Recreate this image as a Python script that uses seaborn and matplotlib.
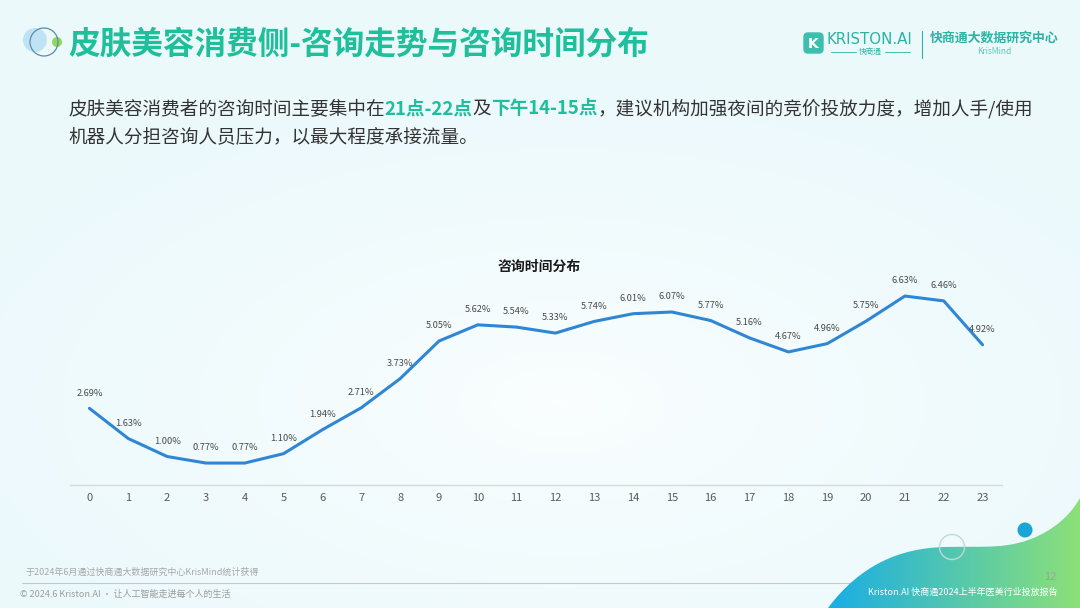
import numpy as np
import pandas as pd
import matplotlib
matplotlib.use("Agg")
import matplotlib.pyplot as plt
import seaborn as sns
from matplotlib.patches import Circle, PathPatch, FancyBboxPatch
from matplotlib.path import Path

# ---------------- data ----------------
hours = list(range(24))
hour_labels = [str(h) for h in hours]
share_pct = [2.69, 1.63, 1.00, 0.77, 0.77, 1.10, 1.94, 2.71, 3.73, 5.05, 5.62, 5.54,
             5.33, 5.74, 6.01, 6.07, 5.77, 5.16, 4.67, 4.96, 5.75, 6.63, 6.46, 4.92]

title_text = "皮肤美容消费侧-咨询走势与咨询时间分布"
chart_title = "咨询时间分布"
line1 = [("皮肤美容消费者的咨询时间主要集中在", False), ("21点-22点", True), ("及", False),
         ("下午14-15点", True), ("，建议机构加强夜间的竞价投放力度，增加人手/使用", False)]
line2 = [("机器人分担咨询人员压力，以最大程度承接流量。", False)]
source_text = "于2024年6月通过快商通大数据研究中心KrisMind统计获得"
copyright_text = "© 2024.6 Kriston.AI · 让人工智能走进每个人的生活"
report_text = "Kriston.AI 快商通2024上半年医美行业投放报告"
page_no = "12"

df = pd.DataFrame({"hour": hours, "pct": share_pct})

# ---------------- style ----------------
sns.set_theme(style="white")
plt.rcParams["font.family"] = ["Noto Sans CJK SC", "DejaVu Sans"]

W, H = 1080, 608
fig = plt.figure(figsize=(W / 100, H / 100), dpi=100)

# background axes in pixel coords
bg = fig.add_axes([0, 0, 1, 1])
bg.set_xlim(0, W)
bg.set_ylim(H, 0)
bg.axis("off")
bg.set_zorder(0)

yy, xx = np.mgrid[0:H:4, 0:W:4]
d = np.clip(np.sqrt(((xx - 560) / 650.0) ** 2 + ((yy - 400) / 330.0) ** 2), 0, 1) ** 0.7
c0 = np.array([0.985, 0.997, 0.998])
c1 = np.array([0.925, 0.977, 0.988])
img = c0[None, None, :] * (1 - d[..., None]) + c1[None, None, :] * d[..., None]
bg.imshow(img, extent=[0, W, H, 0], aspect="auto", zorder=0)

# wave bottom-right with gradient
verts = [(828, 608), (860, 565), (900, 548), (945, 547),
         (985, 546), (1010, 550), (1040, 535),
         (1060, 525), (1072, 512), (1080, 498),
         (1080, 608), (828, 608)]
codes = [Path.MOVETO, Path.CURVE4, Path.CURVE4, Path.CURVE4,
         Path.CURVE4, Path.CURVE4, Path.CURVE4,
         Path.CURVE4, Path.CURVE4, Path.CURVE4,
         Path.LINETO, Path.CLOSEPOLY]
wave = PathPatch(Path(verts, codes), facecolor="none", edgecolor="none", zorder=2)
bg.add_patch(wave)
gx = np.linspace(0, 1, 256)
ca = np.array([0.10, 0.68, 0.90])
cb = np.array([0.55, 0.88, 0.47])
grad = ca[None, None, :] * (1 - gx[None, :, None]) + cb[None, None, :] * gx[None, :, None]
gim = bg.imshow(np.repeat(grad, 2, axis=0), extent=[828, 1080, 608, 495], aspect="auto", zorder=2)
gim.set_clip_path(wave)

bg.add_patch(Circle((1025, 530), 7.5, facecolor="#19a6d6", edgecolor="none", zorder=3))
bg.add_patch(Circle((952, 547), 12.5, facecolor="none", edgecolor="#bcd9dc", lw=1.0, zorder=3))

# footer line
bg.plot([22, 1062], [583, 583], color="#c8c8c8", lw=0.8, zorder=1)
bg.text(25, 572, source_text, fontsize=6.5, color="#a8a8a8", va="center", ha="left", zorder=3)
bg.text(20, 594, copyright_text, fontsize=6.5, color="#9c9c9c", va="center", ha="left", zorder=3)
bg.text(1058, 592, report_text, fontsize=6.5, color="white", va="center", ha="right", zorder=4)
bg.text(1056, 577, page_no, fontsize=8, color="#a0a0a0", va="center", ha="right", zorder=4)

# title icon
bg.add_patch(Circle((35, 40), 12, facecolor="#bfe3f4", edgecolor="none", zorder=2))
bg.add_patch(Circle((57, 42), 5, facecolor="#8fd85a", edgecolor="none", zorder=2))
bg.add_patch(Circle((44, 42), 14, facecolor="none", edgecolor="#5f8aa8", lw=0.9, zorder=3))
bg.text(68, 45, title_text, fontsize=22.8, fontweight="bold", color="#1fbf9c",
        va="center", ha="left", zorder=3)

# logo
bg.add_patch(FancyBboxPatch((804, 33), 19, 20, boxstyle="round,pad=0,rounding_size=4",
                            facecolor="#3cc0ad", edgecolor="#3cc0ad", lw=1.0, zorder=3))
bg.text(813.5, 43.5, "K", fontsize=10, fontweight="bold", color="white", va="center", ha="center",
        family="DejaVu Sans", zorder=4)
bg.text(827, 40, "KRISTON.AI", fontsize=10.8, color="#2bb3a3", va="center", ha="left",
        family="DejaVu Sans", zorder=3)
bg.text(870, 52, "快商通", fontsize=5.5, color="#2bb3a3", va="center", ha="center", zorder=3)
bg.plot([831, 856], [52, 52], color="#2bb3a3", lw=0.6)
bg.plot([885, 910], [52, 52], color="#2bb3a3", lw=0.6)
bg.plot([922, 922], [31, 58], color="#2bb3a3", lw=0.8)
bg.text(994, 38, "快商通大数据研究中心", fontsize=9.3, fontweight="bold", color="#2bb3a3",
        va="center", ha="center", zorder=3)
bg.text(994, 52, "KrisMind", fontsize=6, color="#5cc5b5", va="center", ha="center", zorder=3)

# subtitle rich text
fig.canvas.draw()
renderer = fig.canvas.get_renderer()


def rich_line(pieces, x0, y0, size=13.4):
    x = x0
    for txt, hi in pieces:
        t = bg.text(x, y0, txt, fontsize=size, va="center", ha="left",
                    color="#1fbf9c" if hi else "#333333",
                    fontweight="bold" if hi else "normal", zorder=3)
        bb = t.get_window_extent(renderer=renderer)
        x += bb.width


rich_line(line1, 68, 109)
rich_line(line2, 68, 137)

# ---------------- chart ----------------
ax = fig.add_axes([70 / W, (H - 485) / H, 932 / W, (485 - 285.5) / H])
ax.set_zorder(5)
ax.patch.set_alpha(0)
sns.lineplot(data=df, x="hour", y="pct", ax=ax, color="#2f86d4", linewidth=2.2)
ax.set_xlim(-0.5, 23.5)
ax.set_ylim(0, 7)
ax.set_xticks(hours)
ax.set_xticklabels(hour_labels)
ax.set_yticks([])
ax.set_xlabel("")
ax.set_ylabel("")
for s in ["top", "left", "right"]:
    ax.spines[s].set_visible(False)
ax.spines["bottom"].set_color("#d9d9d9")
ax.spines["bottom"].set_linewidth(1.0)
ax.tick_params(axis="x", length=0, pad=6, labelsize=8, labelcolor="#595959")
for h, v in zip(hours, share_pct):
    ax.annotate(f"{v:.2f}%", (h, v), xytext=(0, 11), textcoords="offset points",
                ha="center", va="center", fontsize=6.7, color="#4a4a4a")

bg.text(539, 267, chart_title, fontsize=10, fontweight="bold", color="#1a1a1a",
        va="center", ha="center", zorder=3)

fig.savefig("out.png", dpi=100)
